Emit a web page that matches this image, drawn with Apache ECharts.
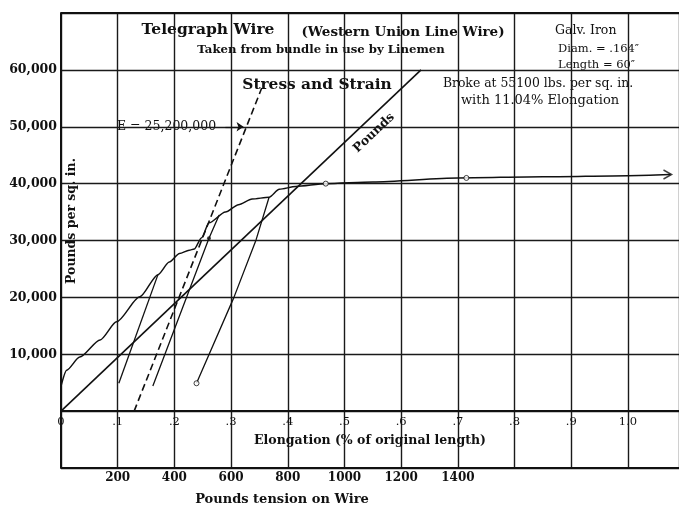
<!DOCTYPE html>
<html><head><meta charset="utf-8">
<script src="https://cdn.jsdelivr.net/npm/echarts/dist/echarts.min.js"></script>
<style>html,body{margin:0;padding:0;background:#fff}#c{width:679px;height:507px}</style>
</head><body><div id="c"></div>
<script>
// ---- tick labels ----
const elongTicks = ['0', '.1', '.2', '.3', '.4', '.5', '.6', '.7', '.8', '.9', '1.0'];
const stressTicks = ['10,000', '20,000', '30,000', '40,000', '50,000', '60,000'];
const poundTicks = ['200', '400', '600', '800', '1000', '1200', '1400'];

// ---- main stress-strain curve (elongation %, lbs per sq. in.) ----
const curveElong  = [0, 0.010, 0.033, 0.069, 0.098, 0.139, 0.171, 0.191, 0.209, 0.226, 0.235, 0.248, 0.261, 0.290, 0.313, 0.337, 0.367, 0.385, 0.414, 0.467, 0.55, 0.70, 0.85, 1.0, 1.075];
const curveStress = [4400, 7200, 9500, 12500, 15700, 20100, 24000, 26200, 27700, 28300, 28500, 30500, 33100, 35000, 36300, 37300, 37600, 39000, 39500, 40000, 40300, 41000, 41200, 41400, 41600];

// ---- release / reload lines ----
const reload1Elong  = [0.102, 0.171];
const reload1Stress = [4900, 24000];
const reload2Elong  = [0.162, 0.261, 0.279];
const reload2Stress = [4400, 30400, 34500];
const reload3Elong  = [0.239, 0.305, 0.344, 0.367];
const reload3Stress = [4900, 20000, 30100, 37600];

// ---- modulus line E = 25,200,000 (dashed) ----
const modulusElong  = [0.129, 0.354];
const modulusStress = [0, 56800];

// ---- pounds tension line (plotted on pounds scale) ----
const poundsTension = [0, 1270];
const poundsStress  = [0, 60000];

// ---- small open circles and a solid dot on the curves ----
const markElong  = [0.239, 0.467, 0.715];
const markStress = [4900, 40000, 41000];
const dotElong  = [0.261];
const dotStress = [30400];

const zip = (a, b) => a.map((v, i) => [v, b[i]]);
const SERIF = '"DejaVu Serif", "Liberation Serif", serif';
const INK = '#111';

const chart = echarts.init(document.getElementById('c'), null, {renderer: 'canvas'});

const lastPt = [curveElong[curveElong.length - 1], curveStress[curveStress.length - 1]];
// grid: 455px tall for 80,000 -> zero line sits 10,000 above the bottom edge
const zeroOffset = -455 / 8;

chart.setOption({
  backgroundColor: '#fff',
  animation: false,
  grid: {left: 61, right: 0, top: 13, bottom: 39, containLabel: false, outerBoundsMode: 'none'},
  xAxis: [{
    type: 'value', min: 0, max: 1.09, interval: 0.1, position: 'bottom', offset: zeroOffset,
    axisLine: {show: true, onZero: false, lineStyle: {color: INK, width: 2}},
    axisTick: {show: false},
    axisLabel: {
      margin: 5, color: INK, fontFamily: SERIF, fontSize: 11.5,
      formatter: v => { const i = Math.round(v * 10); return Math.abs(v * 10 - i) < 0.01 && elongTicks[i] ? elongTicks[i] : ''; }
    },
    splitLine: {show: true, lineStyle: {color: '#1a1a1a', width: 1.4}},
    name: 'Elongation (% of original length)', nameLocation: 'middle', nameGap: 23,
    nameTextStyle: {color: INK, fontFamily: SERIF, fontSize: 12.5, fontWeight: 'bold'}
  }, {
    type: 'value', min: 0, max: 2180, interval: 200, position: 'bottom',
    axisLine: {show: false, onZero: false}, axisTick: {show: false}, splitLine: {show: false},
    axisLabel: {
      margin: 4, color: INK, fontFamily: SERIF, fontSize: 12, fontWeight: 'bold',
      formatter: v => { const i = Math.round(v / 200) - 1; return Math.abs(v / 200 - i - 1) < 0.01 && poundTicks[i] ? poundTicks[i] : ''; }
    }
  }],
  yAxis: {
    type: 'value', min: -10000, max: 70000, interval: 10000,
    axisLine: {show: true, onZero: false, lineStyle: {color: INK, width: 2}},
    axisTick: {show: false},
    axisLabel: {
      margin: 4, color: INK, fontFamily: SERIF, fontSize: 12.5, fontWeight: 'bold',
      formatter: v => { const i = Math.round(v / 10000) - 1; return stressTicks[i] && v > 0 ? stressTicks[i] : ''; }
    },
    splitLine: {show: true, lineStyle: {color: '#1a1a1a', width: 1.4}}
  },
  series: [
    {
      type: 'line', data: zip(curveElong, curveStress), showSymbol: false, smooth: 0.25, smoothMonotone: 'x',
      lineStyle: {color: INK, width: 1.5}, z: 5,
      markLine: {
        silent: true, symbol: 'none', label: {show: false},
        lineStyle: {color: INK, width: 2, type: 'solid'},
        data: [{yAxis: 70000}, {yAxis: -10000}]
      }
    },
    {
      type: 'scatter', data: [lastPt], symbol: 'path://M0,0L10,5L0,10', symbolSize: [8, 9], symbolOffset: [-3, 0],
      itemStyle: {color: 'rgba(0,0,0,0)', borderColor: INK, borderWidth: 1.5}, z: 6
    },
    {type: 'line', data: zip(reload1Elong, reload1Stress), showSymbol: false, lineStyle: {color: INK, width: 1.3}, z: 5},
    {type: 'line', data: zip(reload2Elong, reload2Stress), showSymbol: false, lineStyle: {color: INK, width: 1.3}, z: 5},
    {type: 'line', data: zip(reload3Elong, reload3Stress), showSymbol: false, lineStyle: {color: INK, width: 1.3}, z: 5},
    {
      type: 'line', data: zip(modulusElong, modulusStress), showSymbol: false,
      lineStyle: {color: INK, width: 1.6, type: [7, 4]}, z: 5,
      markLine: {
        silent: true, symbol: ['none', 'arrow'], symbolSize: 7, label: {show: false},
        lineStyle: {color: INK, width: 1.2, type: 'solid'},
        data: [[{coord: [0.29, 50000]}, {coord: [0.322, 50000]}]]
      }
    },
    {type: 'line', xAxisIndex: 1, data: zip(poundsTension, poundsStress), showSymbol: false, lineStyle: {color: INK, width: 1.6}, z: 5},
    {
      type: 'scatter', data: zip(markElong, markStress), symbol: 'circle', symbolSize: 5,
      itemStyle: {color: '#fff', borderColor: INK, borderWidth: 1}, z: 7
    },
    {
      type: 'scatter', data: zip(dotElong, dotStress), symbol: 'circle', symbolSize: 4,
      itemStyle: {color: INK}, z: 7
    }
  ],
  graphic: [
    {type: 'text', x: 208, y: 30, style: {text: 'Telegraph Wire', fontFamily: SERIF, fontSize: 15.5, fontWeight: 'bold', fill: INK, align: 'center', verticalAlign: 'middle'}},
    {type: 'text', x: 403, y: 32, style: {text: '(Western Union Line Wire)', fontFamily: SERIF, fontSize: 13.5, fontWeight: 'bold', fill: INK, align: 'center', verticalAlign: 'middle'}},
    {type: 'text', x: 321, y: 50, style: {text: 'Taken from bundle in use by Linemen', fontFamily: SERIF, fontSize: 11.7, fontWeight: 'bold', fill: INK, align: 'center', verticalAlign: 'middle'}},
    {type: 'text', x: 555, y: 31, style: {text: 'Galv. Iron', fontFamily: SERIF, fontSize: 12.5, fill: INK, align: 'left', verticalAlign: 'middle'}},
    {type: 'text', x: 558, y: 49, style: {text: 'Diam. = .164″', fontFamily: SERIF, fontSize: 11.5, fill: INK, align: 'left', verticalAlign: 'middle'}},
    {type: 'text', x: 558, y: 65, style: {text: 'Length = 60″', fontFamily: SERIF, fontSize: 11.5, fill: INK, align: 'left', verticalAlign: 'middle'}},
    {type: 'text', x: 317, y: 85, style: {text: 'Stress and Strain', fontFamily: SERIF, fontSize: 15.4, fontWeight: 'bold', fill: INK, align: 'center', verticalAlign: 'middle'}},
    {type: 'text', x: 538, y: 84, style: {text: 'Broke at 55100 lbs. per sq. in.', fontFamily: SERIF, fontSize: 12.4, fill: INK, align: 'center', verticalAlign: 'middle'}},
    {type: 'text', x: 540, y: 101, style: {text: 'with 11.04% Elongation', fontFamily: SERIF, fontSize: 13, fill: INK, align: 'center', verticalAlign: 'middle'}},
    {type: 'text', x: 117, y: 127, style: {text: 'E = 25,200,000', fontFamily: SERIF, fontSize: 12.5, fill: INK, align: 'left', verticalAlign: 'middle'}},
    {type: 'text', x: 374, y: 133, rotation: 43.3 * Math.PI / 180, style: {text: 'Pounds', fontFamily: SERIF, fontSize: 12.5, fontWeight: 'bold', fill: INK, align: 'center', verticalAlign: 'middle'}},
    {type: 'text', x: 72, y: 221, rotation: Math.PI / 2, style: {text: 'Pounds per sq. in.', fontFamily: SERIF, fontSize: 12.5, fontWeight: 'bold', fill: INK, align: 'center', verticalAlign: 'middle'}},
    {type: 'text', x: 282, y: 500, style: {text: 'Pounds tension on Wire', fontFamily: SERIF, fontSize: 13, fontWeight: 'bold', fill: INK, align: 'center', verticalAlign: 'middle'}}
  ]
});
</script>
</body></html>
